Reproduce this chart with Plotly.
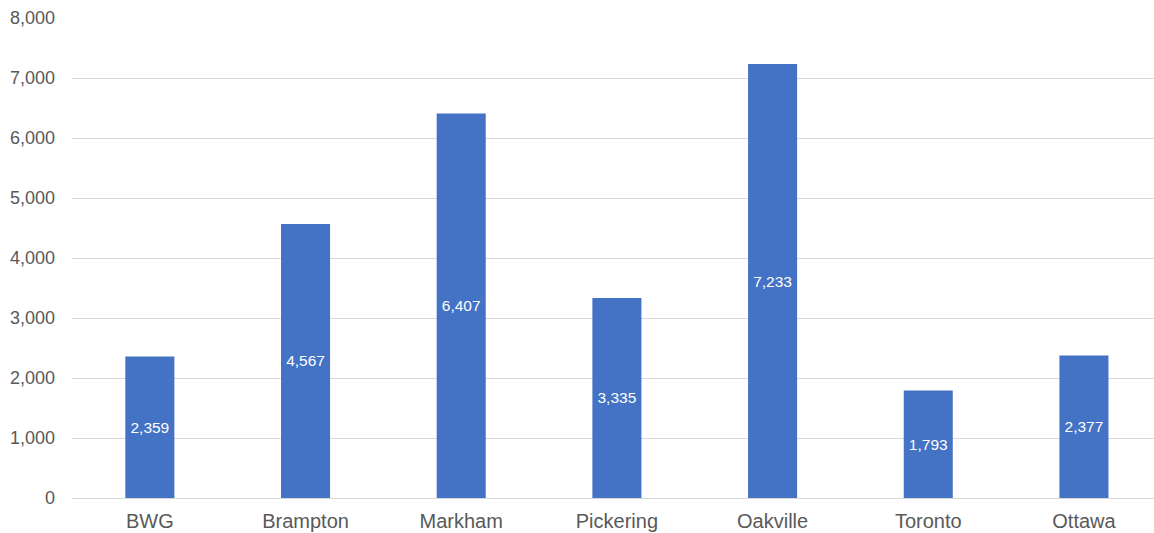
import plotly.graph_objects as go

# Values per location
locations = ["BWG", "Brampton", "Markham", "Pickering", "Oakville", "Toronto", "Ottawa"]
counts = [2359, 4567, 6407, 3335, 7233, 1793, 2377]

y_ticks = [0, 1000, 2000, 3000, 4000, 5000, 6000, 7000, 8000]

fig = go.Figure(
    go.Bar(
        x=locations,
        y=counts,
        width=0.315,
        marker=dict(color="#4472C4", line=dict(width=0)),
        text=[f"{v:,}" for v in counts],
        textposition="inside",
        insidetextanchor="middle",
        textangle=0,
        textfont=dict(family="Liberation Sans, Arial, sans-serif", size=15.5, color="#FFFFFF"),
        hoverinfo="x+y",
    )
)

fig.update_layout(
    width=1154,
    height=533,
    margin=dict(l=72, r=0, t=18, b=35),
    paper_bgcolor="white",
    plot_bgcolor="white",
    showlegend=False,
    font=dict(family="Liberation Sans, Arial, sans-serif", color="#595959"),
    uniformtext=dict(minsize=8, mode="show"),
)

fig.update_xaxes(
    range=[-0.5, 6.45],
    showgrid=False,
    showline=False,
    zeroline=False,
    tickfont=dict(size=20, color="#595959"),
    ticks="",
    ticklabelstandoff=9,
)

fig.update_yaxes(
    range=[0, 8000],
    tickvals=y_ticks,
    ticktext=[f"{v:,}" for v in y_ticks],
    showgrid=True,
    gridcolor="#D9D9D9",
    gridwidth=1,
    zeroline=True,
    zerolinecolor="#D9D9D9",
    zerolinewidth=1,
    showline=False,
    tickfont=dict(size=18, color="#595959"),
    ticks="",
    ticklabelstandoff=16,
)

fig.write_html("out.html")
